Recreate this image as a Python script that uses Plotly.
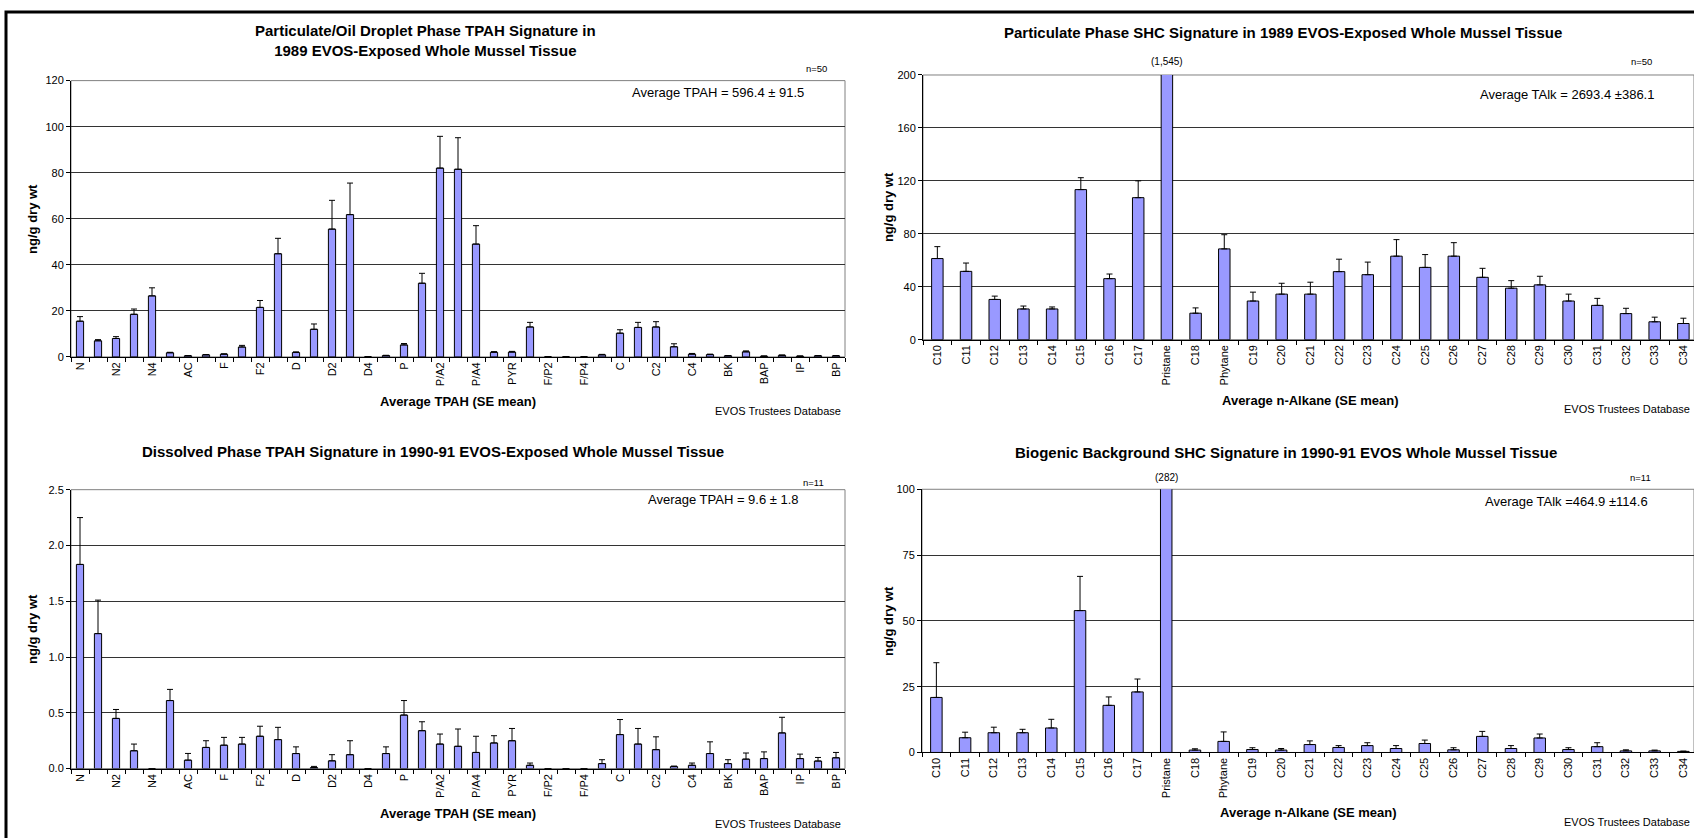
import plotly.graph_objects as go

W, H = 1694, 838
FONT = "Liberation Sans, Arial, sans-serif"
BAR_COLOR = "#9999FF"
GRID = "#333333"

# PAH analytes (only every other one is labelled on the axis)
PAH_NAMES = ["N", "N1", "N2", "N3", "N4", "BI", "AC", "AE", "F", "F1", "F2", "F3",
             "D", "D1", "D2", "D3", "D4", "A", "P", "P/A1", "P/A2", "P/A3", "P/A4",
             "FL", "PYR", "F/P1", "F/P2", "F/P3", "F/P4", "BA", "C", "C1", "C2",
             "C3", "C4", "BB", "BK", "BE", "BAP", "PER", "IP", "DA", "BP"]

PAH_1989_MEAN = [15.5, 7.0, 8.0, 18.5, 26.5, 1.8, 0.5, 0.9, 1.2, 4.3, 21.5, 44.8,
                 1.9, 12.0, 55.5, 61.8, 0.0, 0.6, 5.2, 32.0, 82.0, 81.5, 49.0,
                 2.0, 2.1, 13.0, 0.0, 0.0, 0.0, 0.9, 10.3, 12.8, 13.0,
                 4.4, 1.2, 1.0, 0.5, 2.2, 0.3, 0.7, 0.3, 0.5, 0.5]
PAH_1989_SE = [2.0, 0.5, 0.8, 2.3, 3.5, 0.2, 0.1, 0.1, 0.1, 0.7, 3.0, 6.7,
               0.3, 2.3, 12.5, 13.7, 0.0, 0.1, 0.6, 4.3, 13.8, 13.7, 8.0,
               0.3, 0.3, 2.0, 0.0, 0.0, 0.0, 0.2, 1.5, 2.2, 2.3,
               1.3, 0.3, 0.2, 0.1, 0.4, 0.1, 0.1, 0.1, 0.1, 0.1]

PAH_1990_MEAN = [1.83, 1.21, 0.45, 0.16, 0.0, 0.61, 0.076, 0.19, 0.21, 0.22, 0.29, 0.26,
                 0.135, 0.01, 0.07, 0.125, 0.0, 0.135, 0.48, 0.34, 0.22, 0.20, 0.145,
                 0.23, 0.25, 0.03, 0.0, 0.0, 0.0, 0.045, 0.305, 0.22, 0.17,
                 0.018, 0.03, 0.135, 0.045, 0.085, 0.09, 0.32, 0.09, 0.068, 0.097]
PAH_1990_SE = [0.42, 0.30, 0.08, 0.06, 0.0, 0.10, 0.06, 0.06, 0.07, 0.06, 0.09, 0.11,
               0.06, 0.01, 0.055, 0.125, 0.0, 0.06, 0.13, 0.08, 0.09, 0.155, 0.145,
               0.065, 0.11, 0.02, 0.0, 0.0, 0.0, 0.035, 0.135, 0.14, 0.115,
               0.005, 0.02, 0.105, 0.035, 0.055, 0.06, 0.14, 0.04, 0.032, 0.048]

# saturated hydrocarbons
ALK_NAMES = ["C10", "C11", "C12", "C13", "C14", "C15", "C16", "C17", "Pristane", "C18",
             "Phytane", "C19", "C20", "C21", "C22", "C23", "C24", "C25", "C26", "C27",
             "C28", "C29", "C30", "C31", "C32", "C33", "C34"]

ALK_1989_MEAN = [61.3, 51.6, 30.4, 23.2, 23.2, 113.4, 46.1, 107.3, 1545, 20.0,
                 68.6, 29.2, 34.4, 34.4, 51.4, 49.1, 63.1, 54.6, 63.1, 47.1,
                 38.9, 41.4, 29.2, 25.9, 19.7, 13.5, 12.2]
ALK_1989_SE = [9.0, 6.3, 2.5, 2.2, 1.5, 9.0, 3.5, 12.7, 0.0, 4.0,
               10.7, 6.7, 8.2, 9.0, 9.4, 9.5, 12.5, 9.7, 10.2, 6.8,
               5.7, 6.5, 5.2, 5.3, 4.0, 3.5, 4.0]

ALK_1990_MEAN = [20.9, 5.6, 7.5, 7.5, 9.3, 53.9, 17.9, 23.0, 282, 0.9,
                 4.2, 1.1, 0.9, 3.0, 1.9, 2.6, 1.5, 3.4, 1.0, 6.1,
                 1.5, 5.5, 1.1, 2.2, 0.6, 0.6, 0.4]
ALK_1990_SE = [13.2, 2.1, 2.1, 1.3, 3.3, 13.0, 3.2, 4.9, 0.0, 0.5,
               3.6, 0.7, 0.6, 1.4, 0.7, 1.1, 1.1, 1.3, 0.8, 1.9,
               1.1, 1.5, 0.7, 1.5, 0.4, 0.3, 0.1]


def px(x):
    return x / W


def py(y):
    return 1 - y / H


panels = [
    # axis suffix, names, mean, se, x pixel span, y pixel span, y max, dtick, format, x max, sparse labels
    ("", PAH_NAMES, PAH_1989_MEAN, PAH_1989_SE, (71, 845), (75.7, 356), 120, 20, "d", 42.5, True),
    ("2", ALK_NAMES, ALK_1989_MEAN, ALK_1989_SE, (923, 1694), (70, 338.5), 200, 40, "d", 26.37, False),
    ("3", PAH_NAMES, PAH_1990_MEAN, PAH_1990_SE, (71, 845), (490.7, 773.7), 2.5, 0.5, ".1f", 42.5, True),
    ("4", ALK_NAMES, ALK_1990_MEAN, ALK_1990_SE, (922, 1694), (490.3, 757.3), 100, 25, "d", 26.37, False),
]

fig = go.Figure()
layout = {}
shapes = []

for sfx, names, mean, se, xs, ys, ymax, dtick, fmt, xmax, every_other in panels:
    fig.add_trace(go.Bar(
        x=names, y=mean,
        marker=dict(color=BAR_COLOR, line=dict(color="black", width=1)),
        error_y=dict(type="data", array=se, arrayminus=[0] * len(se), symmetric=False,
                     color="black", thickness=1, width=3),
        xaxis="x" + sfx, yaxis="y" + sfx, showlegend=False,
    ))
    ticktext = [n if (i % 2 == 0 or not every_other) else "" for i, n in enumerate(names)]
    layout["xaxis" + sfx] = dict(
        domain=[px(xs[0]), min(px(xs[1]), 1)], anchor="y" + sfx, type="category",
        range=[-0.5, xmax], tickmode="array", tickvals=names, ticktext=ticktext,
        tickson="boundaries", ticks="outside", ticklen=4, tickcolor="black",
        tickangle=-90, showline=True, linecolor="black", linewidth=1, showgrid=False,
        tickfont=dict(size=11, family=FONT, color="black"), fixedrange=True,
    )
    layout["yaxis" + sfx] = dict(
        domain=[py(ys[1]), py(ys[0])], anchor="x" + sfx, range=[0, ymax], dtick=dtick,
        tickformat=fmt, ticks="outside", ticklen=4, tickcolor="black",
        showline=True, linecolor="black", linewidth=1, showgrid=True, gridcolor=GRID,
        gridwidth=1, zeroline=False, tickfont=dict(size=11, family=FONT, color="black"),
        fixedrange=True,
    )
    shapes.append(dict(type="rect", xref="x%s domain" % sfx, yref="y%s domain" % sfx,
                       x0=0, x1=1, y0=0, y1=1, line=dict(color="#808080", width=1),
                       layer="below"))

# outer frame (only the left and top edges fall inside the picture)
shapes.append(dict(type="rect", xref="paper", yref="paper", x0=px(6), x1=px(1720),
                   y0=py(860), y1=py(6), line=dict(color="black", width=3)))


def note(x, y, text, size=11, bold=False, anchor="center", angle=0):
    return dict(x=px(x), y=py(y), xref="paper", yref="paper", text=("<b>%s</b>" % text) if bold else text,
                showarrow=False, xanchor=anchor, yanchor="middle", textangle=angle,
                font=dict(size=size, family=FONT, color="black"))


annotations = [
    note(425, 35, "Particulate/Oil Droplet Phase TPAH Signature in<br>1989 EVOS-Exposed Whole Mussel Tissue", 15, True),
    note(1283, 27, "Particulate Phase SHC Signature in 1989 EVOS-Exposed Whole Mussel Tissue", 15, True),
    note(433, 452, "Dissolved Phase TPAH Signature in 1990-91 EVOS-Exposed Whole Mussel Tissue", 15, True),
    note(1286, 453, "Biogenic Background SHC Signature in 1990-91 EVOS Whole Mussel Tissue", 15, True),
    note(816, 63, "n=50", 9.5),
    note(1641, 56, "n=50", 9.5),
    note(813, 483, "n=11", 9.5),
    note(1640, 478, "n=11", 9.5),
    note(806, 88, "Average TPAH = 596.4 ± 91.5", 13, anchor="right"),
    note(1656, 90, "Average TAlk = 2693.4 ±386.1", 13, anchor="right"),
    note(801, 501, "Average TPAH = 9.6 ± 1.8", 13, anchor="right"),
    note(1650, 503, "Average TAlk =464.9 ±114.6", 13, anchor="right"),
    note(458, 401, "Average TPAH (SE mean)", 13, True),
    note(1310, 400, "Average n-Alkane (SE mean)", 13, True),
    note(458, 819, "Average TPAH (SE mean)", 13, True),
    note(1308, 818, "Average n-Alkane (SE mean)", 13, True),
    note(843, 411, "EVOS Trustees Database", 11, anchor="right"),
    note(1692, 409, "EVOS Trustees Database", 11, anchor="right"),
    note(843, 830, "EVOS Trustees Database", 11, anchor="right"),
    note(1692, 828, "EVOS Trustees Database", 11, anchor="right"),
    note(33, 216, "ng/g dry wt", 13, True, angle=-90),
    note(888, 204, "ng/g dry wt", 13, True, angle=-90),
    note(33, 632, "ng/g dry wt", 13, True, angle=-90),
    note(888, 624, "ng/g dry wt", 13, True, angle=-90),
    dict(x="Pristane", y=py(56), xref="x2", yref="paper", text="(1,545)", showarrow=False,
         yanchor="middle", font=dict(size=10, family=FONT, color="black")),
    dict(x="Pristane", y=py(478), xref="x4", yref="paper", text="(282)", showarrow=False,
         yanchor="middle", font=dict(size=10, family=FONT, color="black")),
]

fig.update_layout(
    width=W, height=H, margin=dict(l=0, r=0, t=0, b=0),
    paper_bgcolor="white", plot_bgcolor="white", bargap=0.6,
    font=dict(family=FONT, color="black"),
    shapes=shapes, annotations=annotations, **layout,
)

# the page's default body margin would push the 1694x838 figure off the window
fig.write_html("out.html", config={"displayModeBar": False},
               post_script="document.body.style.margin='0';")
